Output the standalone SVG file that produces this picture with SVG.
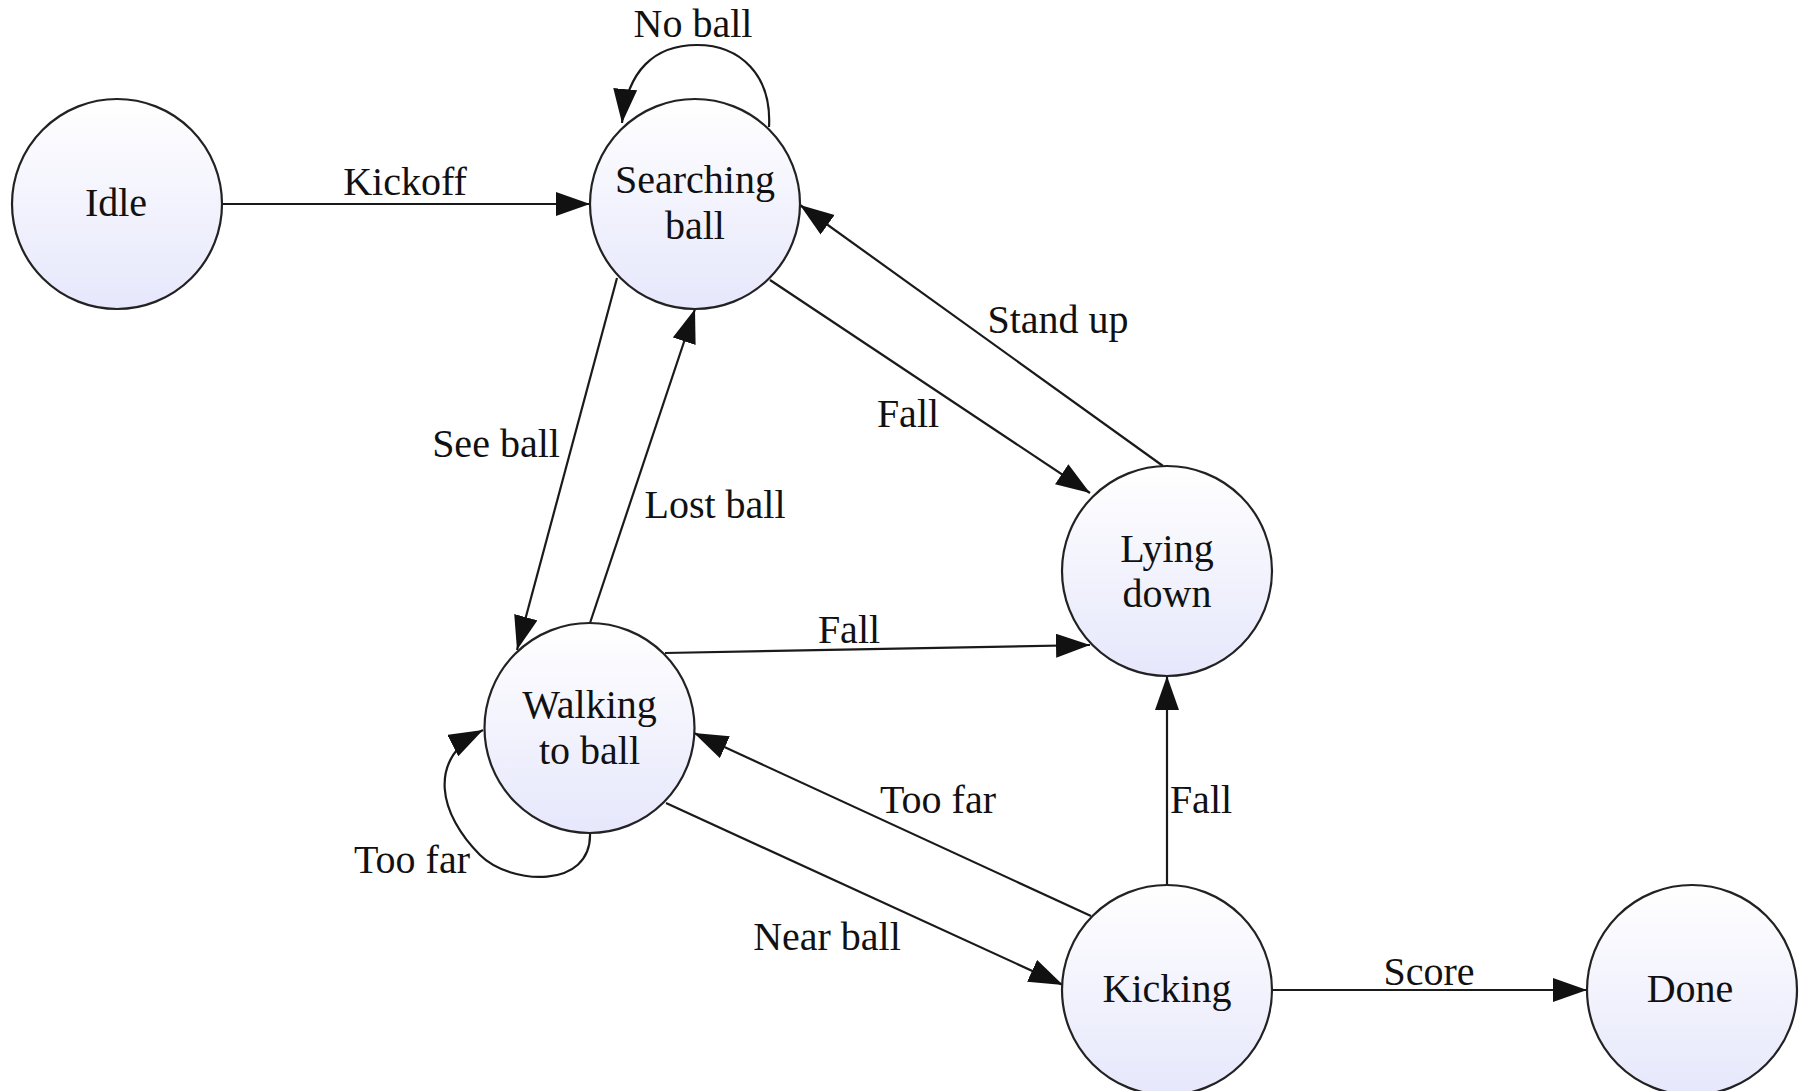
<svg xmlns="http://www.w3.org/2000/svg" width="1800" height="1091" viewBox="0 0 1800 1091">
  <defs>
    <linearGradient id="stateFill" x1="0" y1="0" x2="0" y2="1">
      <stop offset="0" stop-color="#ffffff"/>
      <stop offset="1" stop-color="#e6e7fb"/>
    </linearGradient>
    <marker id="arrow" markerUnits="userSpaceOnUse" markerWidth="36" markerHeight="26" refX="34" refY="12" orient="auto">
      <path d="M0,0 L34,12 L0,24 z" fill="#111"/>
    </marker>
    <style>
      .state circle { fill: url(#stateFill); stroke: #222; stroke-width: 2.2; }
      .state text, .label { font-family: "Liberation Serif", "Times New Roman", serif; font-size: 40px; fill: #111; text-anchor: middle; }
      .edge { fill: none; stroke: #1a1a1a; stroke-width: 2.2; marker-end: url(#arrow); }
    </style>
  </defs>

  <rect width="1800" height="1091" fill="#ffffff"/>

  <!-- transitions -->
  <g id="connectors">
    <line class="edge" x1="222" y1="204" x2="590" y2="204"/>
    <path class="edge" d="M769,127 C772,75 740,45 697,45 C655,45 627,70 622,123"/>
    <line class="edge" x1="617" y1="278" x2="517" y2="650"/>
    <line class="edge" x1="590" y1="623" x2="695" y2="309"/>
    <line class="edge" x1="770" y1="280" x2="1090" y2="493"/>
    <line class="edge" x1="1163" y1="466" x2="800" y2="205"/>
    <line class="edge" x1="665" y1="653" x2="1090" y2="645"/>
    <path class="edge" d="M590,833 C592,890 510,885 480,855 C440,815 425,760 483,730"/>
    <line class="edge" x1="1091" y1="916" x2="694" y2="733"/>
    <line class="edge" x1="666" y1="803" x2="1063" y2="985"/>
    <line class="edge" x1="1167" y1="885" x2="1167" y2="676"/>
    <line class="edge" x1="1272" y1="990" x2="1587" y2="990"/>

    <text class="label" x="405" y="195">Kickoff</text>
    <text class="label" x="693" y="37">No ball</text>
    <text class="label" x="496" y="457">See ball</text>
    <text class="label" x="715" y="518">Lost ball</text>
    <text class="label" x="908" y="427">Fall</text>
    <text class="label" x="1058" y="333">Stand up</text>
    <text class="label" x="849" y="643">Fall</text>
    <text class="label" x="412" y="873">Too far</text>
    <text class="label" x="938" y="813">Too far</text>
    <text class="label" x="1201" y="813">Fall</text>
    <text class="label" x="827" y="950">Near ball</text>
    <text class="label" x="1429" y="985">Score</text>
  </g>

  <!-- states -->
  <g id="idle" class="state">
    <circle cx="117" cy="204" r="105"/>
    <text x="116" y="216">Idle</text>
  </g>
  <g id="searching-ball" class="state">
    <circle cx="695" cy="204" r="105"/>
    <text x="695" y="193">Searching</text>
    <text x="695" y="239">ball</text>
  </g>
  <g id="lying-down" class="state">
    <circle cx="1167" cy="571" r="105"/>
    <text x="1167" y="562">Lying</text>
    <text x="1167" y="607">down</text>
  </g>
  <g id="walking-to-ball" class="state">
    <circle cx="589.5" cy="728" r="105"/>
    <text x="589.5" y="718">Walking</text>
    <text x="589.5" y="764">to ball</text>
  </g>
  <g id="kicking" class="state">
    <circle cx="1167" cy="990" r="105"/>
    <text x="1167" y="1002">Kicking</text>
  </g>
  <g id="done" class="state">
    <circle cx="1692" cy="990" r="105"/>
    <text x="1690" y="1002">Done</text>
  </g>
</svg>
